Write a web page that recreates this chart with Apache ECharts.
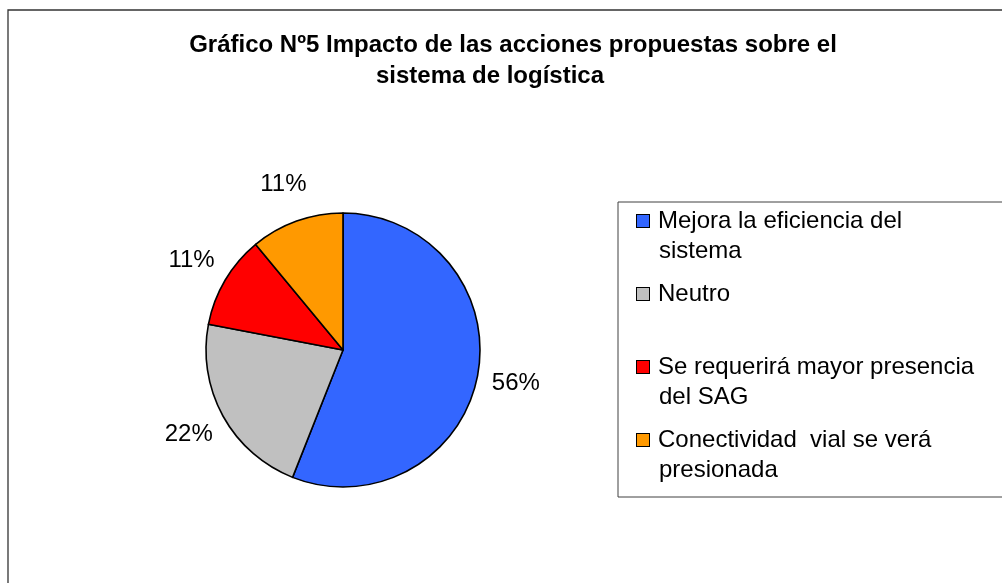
<!DOCTYPE html>
<html>
<head>
<meta charset="utf-8">
<script src="https://cdn.jsdelivr.net/npm/echarts@6/dist/echarts.min.js"></script>
<style>
  html, body { margin: 0; padding: 0; background: #fff; }
  #chart { width: 1002px; height: 583px; }
</style>
</head>
<body>
<div id="chart"></div>
<script>
// datos del gráfico
var titleLines = ['Gráfico Nº5 Impacto de las acciones propuestas sobre el', 'sistema de logística'];
var categories = ['Mejora la eficiencia del sistema', 'Neutro', 'Se requerirá mayor presencia del SAG', 'Conectividad  vial se verá presionada'];
var legendLines = [
  ['Mejora la eficiencia del', 'sistema'],
  ['Neutro', ' '],
  ['Se requerirá mayor presencia', 'del SAG'],
  ['Conectividad  vial se verá', 'presionada']
];
var values = [56, 22, 11, 11];
var colors = ['#3366FF', '#C0C0C0', '#FF0000', '#FF9900'];

var font = '"Liberation Sans", Arial, sans-serif';

var chart = echarts.init(document.getElementById('chart'));

var pieData = categories.map(function (name, i) {
  return { name: name, value: values[i], itemStyle: { color: colors[i] } };
});

var rich = {
  g: { width: 9, height: 12 },
  s: { width: 22, height: 12 },
  t: { fontSize: 24, fontFamily: font, color: '#000', lineHeight: 30 }
};
colors.forEach(function (c, i) {
  rich['m' + i] = { width: 12, height: 12, backgroundColor: c, borderColor: '#000', borderWidth: 1 };
});

var titleStyle = { fontSize: 24, fontWeight: 'bold', color: '#000', lineHeight: 30, fontFamily: font };

var option = {
  backgroundColor: '#fff',
  animation: false,
  textStyle: { fontFamily: font },
  title: [
    { text: titleLines[0], left: 513, top: 30, padding: 0, textAlign: 'center', textStyle: titleStyle },
    { text: titleLines[1], left: 490, top: 61, padding: 0, textAlign: 'center', textStyle: titleStyle }
  ],
  legend: {
    orient: 'vertical',
    left: 618,
    top: 202,
    padding: [4, 60, 12, 14],
    itemGap: 13,
    itemWidth: 0,
    itemHeight: 14,
    icon: 'none',
    selectedMode: false,
    borderColor: '#404040',
    borderWidth: 1,
    data: categories,
    formatter: function (name) {
      var i = categories.indexOf(name);
      var l = legendLines[i];
      return '{m' + i + '|}{g|}{t|' + l[0] + '}\n{s|}{t|' + l[1] + '}';
    },
    textStyle: { fontSize: 24, color: '#000', lineHeight: 30, rich: rich }
  },
  series: [
    {
      type: 'pie',
      center: [343, 350],
      radius: 137,
      startAngle: 90,
      clockwise: true,
      silent: true,
      data: pieData,
      itemStyle: { borderColor: '#000', borderWidth: 1.6 },
      label: { show: false },
      labelLine: { show: false }
    },
    {
      // anillo transparente solo para ubicar las etiquetas de porcentaje
      type: 'pie',
      center: [343, 350],
      radius: [137, 209],
      startAngle: 90,
      clockwise: true,
      silent: true,
      data: categories.map(function (name, i) { return { name: name, value: values[i] }; }),
      itemStyle: { color: 'rgba(0,0,0,0)', borderWidth: 0 },
      label: {
        show: true,
        position: 'inside',
        formatter: '{d}%',
        fontSize: 24,
        color: '#000',
        fontFamily: font
      },
      labelLine: { show: false }
    }
  ],
  graphic: [
    {
      type: 'rect',
      shape: { x: 8, y: 10, width: 1100, height: 600 },
      style: { fill: 'none', stroke: '#333', lineWidth: 1.3 },
      silent: true
    }
  ]
};

chart.setOption(option);
</script>
</body>
</html>
